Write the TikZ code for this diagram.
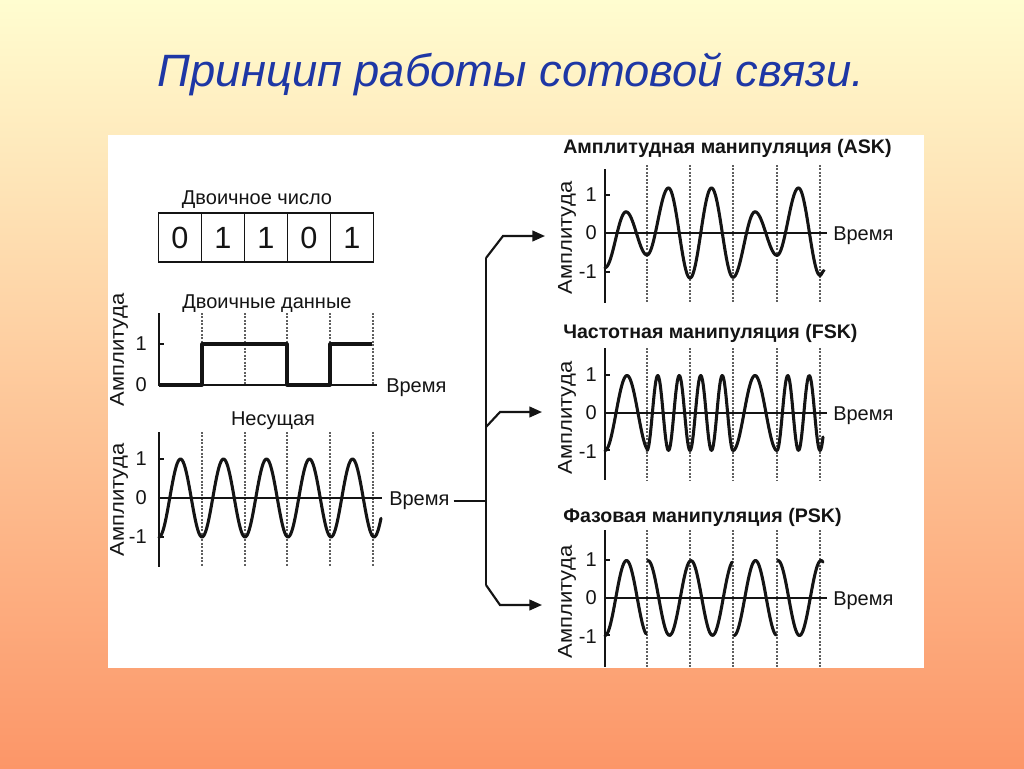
\documentclass[tikz,border=0pt]{standalone}
\usepackage{fontspec}
\setmainfont{Liberation Sans}
\usetikzlibrary{arrows.meta}
\definecolor{titleblue}{RGB}{30,55,165}
\definecolor{bgtop}{RGB}{255,253,208}
\definecolor{bgmid}{RGB}{251,212,165}
\definecolor{bgbot}{RGB}{252,150,104}
\definecolor{ink}{RGB}{20,20,20}
\definecolor{dashgray}{RGB}{95,95,95}
\definecolor{boxgray}{RGB}{150,150,150}
\newcommand\askhalf[4]{\draw[wave] plot[domain=#1:#2,samples=30,smooth,variable=\t] (\t,{233-38.5*(#3+(#4-#3)*(1-cos((\t-#1)/(#2-#1)*180))/2)});}
\newcommand\fskseg[3]{\draw[wave] plot[domain=#1:#2,samples=60,smooth,variable=\t] (\t,{413+37.5*cos((\t-#1)/43*360*#3)});}
\newcommand\pskseg[3]{\draw[wave] plot[domain=#1:#2,samples=50,smooth,variable=\t] (\t,{598+#3*37.5*cos((\t-#1)/43*360)});}
\begin{document}
\begin{tikzpicture}[x=0.75pt,y=-0.75pt,
  axisln/.style={ink,line width=1.3pt},
  wave/.style={ink,line width=2.3pt,line cap=round,line join=round},
  gridln/.style={dashgray,line width=0.8pt,dash pattern=on 1.5pt off 1.1pt},
  conn/.style={ink,line width=1.6pt,line join=miter},
  arr/.style={conn,-{Triangle[length=9.5pt,width=8pt]}},
  lab/.style={ink,font=\fontsize{15}{18}\selectfont,inner sep=0pt},
  captxt/.style={ink,font=\fontsize{15}{18}\selectfont,inner sep=0pt,anchor=base},
  bcap/.style={ink,font=\fontsize{14.7}{17}\selectfont\bfseries,inner sep=0pt,anchor=base west},
  amp/.style={ink,font=\fontsize{15}{18}\selectfont,inner sep=0pt,rotate=90},
  cell/.style={draw=boxgray,line width=0.8pt,minimum width=32.25pt,minimum height=36.75pt,inner sep=0pt,ink,font=\fontsize{23}{26}\selectfont}]
\shade[top color=bgtop,middle color=bgmid,bottom color=bgbot] (0,0) rectangle (1024,768);
\useasboundingbox (0,0) rectangle (1024,768);
\fill[white] (108,135) rectangle (924,668);
% title
\node[titleblue,font=\fontsize{34}{40}\selectfont\itshape,anchor=base,inner sep=0pt] (title) at (511,86) {Принцип работы сотовой связи.};
% binary number
\node[captxt] (tnum) at (257,204) {Двоичное число};
\node[cell] (c1) at (180,237.5) {0};
\node[cell] (c2) at (223,237.5) {1};
\node[cell] (c3) at (266,237.5) {1};
\node[cell] (c4) at (309,237.5) {0};
\node[cell] (c5) at (352,237.5) {1};
% binary data
\node[captxt] (tdata) at (267,308) {Двоичные данные};
\foreach \xx in {202,245,287,330,373} \draw[gridln] (\xx,313) -- (\xx,385);
\draw[axisln] (159,313) -- (159,385) -- (377,385);
\draw[axisln] (159,344) -- (164,344);
\node[lab,anchor=east] (d1) at (147,344) {1};
\node[lab,anchor=east] (d0) at (147,385) {0};
\node[amp] (da) at (119,350) {\scalebox{1.1}[1]{Амплитуда}};
\node[lab,anchor=base west] (dt) at (386,392) {Время};
\draw[wave,line cap=butt] (159,385) -- (202,385) -- (202,344) -- (287,344) -- (287,385) -- (330,385) -- (330,344) -- (372,344);
% carrier
\node[captxt] (tcar) at (273,425) {Несущая};
\foreach \xx in {202,245,287,330,373} \draw[gridln] (\xx,432) -- (\xx,567);
\draw[axisln] (159,432) -- (159,567);
\draw[axisln] (159,498) -- (382,498);
\draw[axisln] (159,459) -- (164,459);
\draw[axisln] (159,537) -- (164,537);
\node[lab,anchor=east] (k1) at (147,459) {1};
\node[lab,anchor=east] (k0) at (147,498) {0};
\node[lab,anchor=east] (km) at (147,537) {-1};
\node[amp] (ka) at (119,500) {\scalebox{1.1}[1]{Амплитуда}};
\node[lab,anchor=base west] (kt) at (389,505) {Время};
\draw[wave] plot[domain=159:381,samples=220,smooth,variable=\t] (\t,{498+39*cos((\t-159)/43*360)});
% connectors
\coordinate (split) at (486,501);
\coordinate (bt) at (486,258);
\coordinate (bm) at (486,427);
\coordinate (bb) at (486,585);
\coordinate (et) at (503,236);
\coordinate (em) at (500,412);
\coordinate (eb) at (500,605);
\coordinate (at) at (545,236);
\coordinate (am) at (542,412);
\coordinate (ab) at (542,605);
\draw[conn] ([xshift=3pt]kt.east |- split) -- (split);
\draw[conn] (bb) -- (bt);
\draw[arr] (bt) -- (et) -- (at);
\draw[arr] (bm) -- (em) -- (am);
\draw[arr] (bb) -- (eb) -- (ab);
% ASK
\node[bcap] (task) at (563,153) {Амплитудная манипуляция (ASK)};
\foreach \xx in {647,690,733,777,820} \draw[gridln] (\xx,165) -- (\xx,303);
\draw[axisln] (605,169) -- (605,303);
\draw[axisln] (605,233) -- (827,233);
\draw[axisln] (605,195) -- (610,195);
\draw[axisln] (605,272) -- (610,272);
\node[lab,anchor=east] (a1) at (597,195) {1};
\node[lab,anchor=east] (a0) at (597,233) {0};
\node[lab,anchor=east] (am1) at (597,272) {-1};
\node[amp] (aa) at (567,238) {\scalebox{1.1}[1]{Амплитуда}};
\node[lab,anchor=base west] (at2) at (833,240) {Время};
\askhalf{605}{626}{-0.9}{0.55}
\askhalf{626}{647}{0.55}{-0.57}
\askhalf{647}{668.5}{-0.57}{1.17}
\askhalf{668.5}{690}{1.17}{-1.17}
\askhalf{690}{711.5}{-1.17}{1.17}
\askhalf{711.5}{733}{1.17}{-1.15}
\askhalf{733}{755}{-1.15}{0.55}
\askhalf{755}{777}{0.55}{-0.58}
\askhalf{777}{798.5}{-0.58}{1.17}
\askhalf{798.5}{820}{1.17}{-1.1}
\askhalf{820}{824}{-1.1}{-0.98}
% FSK
\node[bcap] (tfsk) at (563,338) {Частотная манипуляция (FSK)};
\foreach \xx in {647,690,733,777,820} \draw[gridln] (\xx,348) -- (\xx,480);
\draw[axisln] (605,348) -- (605,480);
\draw[axisln] (605,413) -- (827,413);
\draw[axisln] (605,375) -- (610,375);
\draw[axisln] (605,450) -- (610,450);
\node[lab,anchor=east] (f1) at (597,375) {1};
\node[lab,anchor=east] (f0) at (597,413) {0};
\node[lab,anchor=east] (fm1) at (597,452) {-1};
\node[amp] (fa) at (567,418) {\scalebox{1.1}[1]{Амплитуда}};
\node[lab,anchor=base west] (ft) at (833,420) {Время};
\fskseg{605}{647}{0.977}
\fskseg{647}{690}{2}
\fskseg{690}{733}{2}
\fskseg{733}{777}{0.977}
\fskseg{777}{823}{2}
% PSK
\node[bcap] (tpsk) at (563,522) {Фазовая манипуляция (PSK)};
\foreach \xx in {647,690,733,777,820} \draw[gridln] (\xx,530) -- (\xx,667);
\draw[axisln] (605,530) -- (605,667);
\draw[axisln] (605,598) -- (827,598);
\draw[axisln] (605,560) -- (610,560);
\draw[axisln] (605,635) -- (610,635);
\node[lab,anchor=east] (p1) at (597,560) {1};
\node[lab,anchor=east] (p0) at (597,598) {0};
\node[lab,anchor=east] (pm1) at (597,637) {-1};
\node[amp] (pa) at (567,602) {\scalebox{1.1}[1]{Амплитуда}};
\node[lab,anchor=base west] (pt) at (833,605) {Время};
\pskseg{605}{646}{1}
\pskseg{648}{732}{-1}
\pskseg{734}{776}{1}
\pskseg{778}{823}{-1}
\end{tikzpicture}
\end{document}
